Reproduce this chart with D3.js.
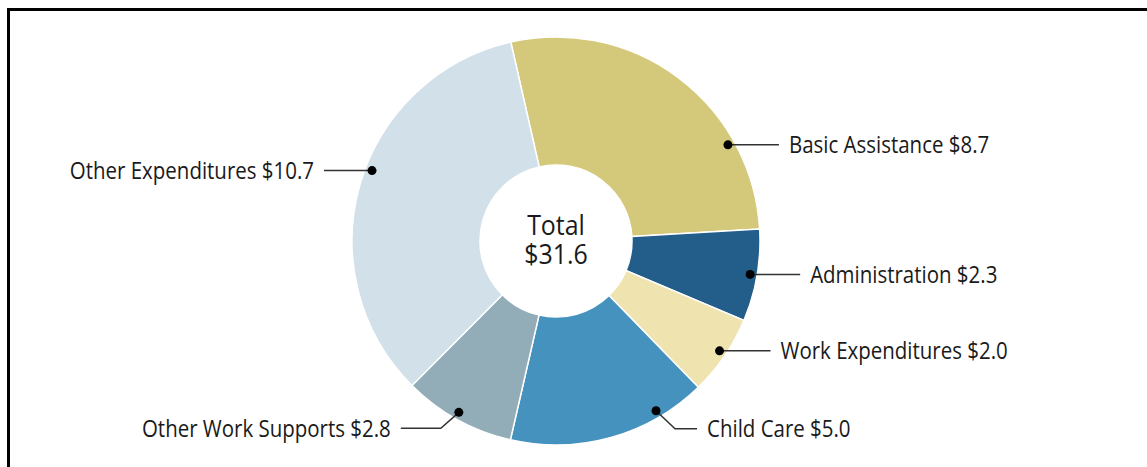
<!DOCTYPE html>
<html><head><meta charset="utf-8">
<script src="https://cdn.jsdelivr.net/npm/d3@7"></script>
<style>html,body{margin:0;padding:0;background:#fff;}svg{display:block;}</style>
</head><body>
<svg id="chart" width="1147" height="467"></svg>
<script>
// ---- data ----
const categories = ["Basic Assistance","Administration","Work Expenditures","Child Care","Other Work Supports","Other Expenditures"];
const values = [8.7, 2.3, 2.0, 5.0, 2.8, 10.7];
const totalLabel = ["Total", "$31.6"];
const colors = ["#d4c97b","#235e8b","#efe3b0","#4592bf","#92adb8","#d2e0ea"];

// ---- layout config ----
const cx = 556, cy = 241, rOuter = 204, rInner = 76;
const startAngle = -12.8 * Math.PI / 180;
const fontFam = "'Open Sans', 'Noto Sans', sans-serif";
const sx = 0.89; // horizontal condensation of text
// per-slice leader settings: fraction along slice, side, elbow (dx,dy), horizontal length
const leader = [
  {f:0.74, side: 1, ex:0, ey:0, h:51},
  {f:0.5,  side: 1, ex:0, ey:0, h:50},
  {f:0.48, side: 1, ex:0, ey:0, h:51},
  {f:0.24, side: 1, ex:19, ey:18, h:22},
  {f:0.52, side:-1, ex:18, ey:16, h:40},
  {f:0.54, side:-1, ex:0, ey:0, h:48}
];
const dotR = 197;

const svg = d3.select("#chart");
svg.append("rect").attr("x",8.5).attr("y",9.5).attr("width",1200).attr("height",600)
  .attr("fill","none").attr("stroke","#000").attr("stroke-width",3);

const pie = d3.pie().sort(null).startAngle(startAngle).endAngle(startAngle + 2*Math.PI);
const arcs = pie(values);
const arc = d3.arc().innerRadius(rInner).outerRadius(rOuter);
const g = svg.append("g").attr("transform",`translate(${cx},${cy})`);
g.selectAll("path").data(arcs).join("path")
  .attr("d", arc).attr("fill",(d,i)=>colors[i])
  .attr("stroke","#fff").attr("stroke-width",1.5);

// center text
const ct = g.append("g").attr("transform",`scale(${sx},1)`)
  .append("text")
  .attr("text-anchor","middle")
  .attr("font-family",fontFam).attr("font-size",28).attr("fill","#1a1a1a");
ct.selectAll("tspan").data(totalLabel).join("tspan")
  .attr("x",0).attr("y",(d,i)=> -6 + i*29)
  .text(d=>d);

// labels
arcs.forEach((a,i)=>{
  const L = leader[i];
  const ang = a.startAngle + (a.endAngle - a.startAngle)*L.f;
  const px = Math.sin(ang)*dotR, py = -Math.cos(ang)*dotR;
  const s = L.side;
  const p1 = [px + s*L.ex, py + L.ey];
  const p2 = [p1[0] + s*L.h, p1[1]];
  g.append("path").attr("d", d3.line()([[px,py],p1,p2]))
    .attr("fill","none").attr("stroke","#333").attr("stroke-width",1.5);
  g.append("circle").attr("cx",px).attr("cy",py).attr("r",4.5).attr("fill","#000");
  const tx = p2[0] + s*10;
  g.append("g").attr("transform",`translate(${tx},${p2[1]}) scale(${sx},1)`)
    .append("text")
    .attr("x",0).attr("y",0).attr("dy","0.36em")
    .attr("text-anchor", s>0 ? "start" : "end")
    .attr("font-family",fontFam).attr("font-size",23).attr("fill","#1a1a1a")
    .text(categories[i] + " $" + values[i].toFixed(1));
});
</script>
</body></html>
